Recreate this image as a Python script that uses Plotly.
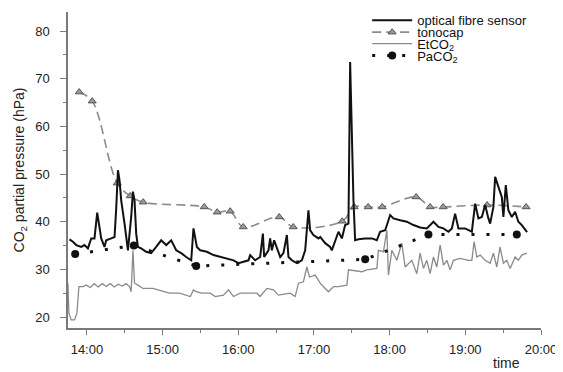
import plotly.graph_objects as go

# ---------------- data (time in decimal hours) ----------------
fibre_t = [13.770, 13.815, 13.859, 13.925, 13.968, 14.013, 14.057, 14.100, 14.136, 14.166,
           14.189, 14.232, 14.255, 14.321, 14.365, 14.387, 14.410, 14.431, 14.453, 14.497,
           14.542, 14.585, 14.608, 14.629, 14.651, 14.674, 14.717, 14.783, 14.849, 14.915,
           14.981, 15.048, 15.114, 15.180, 15.246, 15.312, 15.378, 15.408, 15.431, 15.453,
           15.497, 15.585, 15.672, 15.761, 15.849, 15.937, 16.003, 16.069, 16.135, 16.157,
           16.223, 16.289, 16.325, 16.342, 16.399, 16.421, 16.444, 16.474, 16.510, 16.554,
           16.597, 16.642, 16.663, 16.708, 16.774, 16.840, 16.884, 16.927, 16.950, 16.993,
           17.059, 17.082, 17.148, 17.214, 17.236, 17.280, 17.324, 17.369, 17.412, 17.456,
           17.478, 17.522, 17.544, 17.588, 17.676, 17.765, 17.831, 17.874, 17.941, 18.007,
           18.050, 18.139, 18.227, 18.314, 18.403, 18.491, 18.579, 18.645, 18.711, 18.777,
           18.822, 18.865, 18.909, 18.997, 19.086, 19.130, 19.173, 19.218, 19.262, 19.305,
           19.328, 19.371, 19.394, 19.437, 19.482, 19.503, 19.535, 19.569, 19.614, 19.658,
           19.701, 19.746, 19.790, 19.816]
fibre_v = [36.3, 35.8, 35.1, 34.7, 35.1, 34.4, 36.5, 36.5, 41.9, 38.2,
           36.5, 34.7, 36.1, 36.5, 36.8, 42.8, 50.8, 48.7, 44.5, 39.6,
           34.0, 41.0, 46.3, 44.5, 37.5, 34.7, 34.4, 33.7, 33.4, 34.7,
           36.1, 35.1, 36.1, 34.0, 33.4, 32.6, 31.9, 38.6, 36.5, 34.7,
           34.0, 33.7, 33.0, 32.6, 32.3, 31.9, 31.3, 31.6, 31.9, 33.0,
           31.9, 32.6, 37.5, 32.6, 34.0, 36.5, 34.0, 36.1, 34.7, 32.6,
           33.4, 37.2, 32.6, 31.9, 31.3, 31.9, 34.0, 42.4, 38.2, 37.2,
           36.5, 36.8, 35.5, 34.7, 34.0, 35.8, 37.9, 36.5, 39.3, 39.6,
           73.5, 44.5, 36.1, 36.3, 36.5, 36.5, 36.1, 37.9, 38.2, 41.4,
           40.7, 40.3, 40.0, 39.3, 38.8, 38.6, 40.0, 38.9, 38.6, 37.9,
           38.6, 41.7, 38.6, 38.6, 37.9, 43.8, 40.7, 41.0, 43.5, 40.7,
           39.6, 43.1, 49.4, 47.3, 45.2, 41.0, 47.7, 42.4, 41.0, 42.1,
           40.0, 39.3, 38.2, 37.8]

tono_t = [13.898, 14.070, 14.400, 14.572, 14.744, 15.550, 15.721, 15.893, 16.065, 16.541,
          16.726, 17.373, 17.531, 17.716, 17.901, 18.350, 18.535, 18.707, 19.288, 19.803]
tono_v = [67.2, 65.3, 48.1, 45.4, 44.1, 43.1, 42.0, 42.2, 38.9, 41.0,
          38.9, 40.1, 43.1, 43.1, 43.1, 45.2, 43.1, 43.1, 43.5, 43.1]

etco2_t = [13.749, 13.762, 13.793, 13.836, 13.868, 13.894, 13.947, 13.991, 14.044, 14.096,
           14.149, 14.202, 14.255, 14.308, 14.361, 14.413, 14.466, 14.519, 14.563, 14.585,
           14.608, 14.629, 14.674, 14.740, 14.872, 15.004, 15.091, 15.223, 15.366, 15.408,
           15.453, 15.519, 15.629, 15.695, 15.804, 15.871, 15.937, 16.025, 16.246, 16.289,
           16.378, 16.465, 16.531, 16.686, 16.752, 16.795, 16.861, 16.906, 16.941, 17.016,
           17.082, 17.148, 17.192, 17.258, 17.324, 17.435, 17.456, 17.633, 17.699, 17.831,
           17.852, 17.918, 17.963, 17.984, 18.029, 18.095, 18.161, 18.205, 18.293, 18.359,
           18.403, 18.447, 18.491, 18.535, 18.579, 18.623, 18.667, 18.711, 18.756, 18.799,
           18.843, 18.931, 19.041, 19.086, 19.116, 19.152, 19.196, 19.262, 19.328, 19.371,
           19.416, 19.459, 19.503, 19.548, 19.592, 19.658, 19.701, 19.746, 19.812]
etco2_v = [27.1, 20.8, 19.4, 19.4, 20.8, 26.4, 26.4, 26.7, 26.2, 27.0,
           26.3, 27.0, 26.4, 27.0, 26.3, 26.9, 26.5, 27.0, 26.4, 25.3,
           34.0, 27.1, 26.7, 26.0, 26.0, 25.3, 25.0, 25.0, 24.3, 25.7,
           25.3, 25.0, 25.0, 24.3, 24.6, 25.7, 24.3, 25.0, 25.0, 24.3,
           26.0, 25.7, 24.6, 25.0, 24.3, 27.1, 27.4, 30.5, 28.4, 28.8,
           27.1, 26.0, 25.3, 26.4, 26.4, 26.7, 29.9, 29.5, 29.9, 30.2,
           34.0, 33.7, 38.2, 28.8, 34.0, 31.9, 35.5, 30.5, 31.9, 29.1,
           33.4, 30.2, 31.9, 29.1, 32.6, 30.5, 35.1, 30.9, 31.9, 29.9,
           31.9, 32.3, 31.9, 31.9, 35.8, 32.6, 33.0, 31.9, 31.3, 33.4,
           30.5, 34.7, 31.3, 31.9, 30.2, 32.6, 31.9, 33.0, 33.4]

paco2_t = [13.845, 14.62, 15.444, 17.677, 18.513, 19.680]
paco2_v = [33.2, 35.0, 30.7, 32.1, 37.3, 37.3]

tick_vals = [14, 15, 16, 17, 18, 19, 20]
tick_text = ["14:00", "15:00", "16:00", "17:00", "18:00", "19:00", "20:00"]

FONT = "Liberation Sans, Arial, sans-serif"
AX = "#7a7a7a"

fig = go.Figure()
fig.add_trace(go.Scatter(x=etco2_t, y=etco2_v, mode="lines", name="EtCO<sub>2</sub>",
                         line=dict(color="#8a8a8a", width=1.3), legend="legend3"))
fig.add_trace(go.Scatter(x=tono_t, y=tono_v, mode="lines+markers", name="tonocap",
                         line=dict(color="#8c8c8c", width=1.6, dash="9px,5px", shape="spline", smoothing=1.0),
                         marker=dict(symbol="triangle-up", size=7, color="#9a9a9a",
                                     line=dict(color="#555555", width=1)),
                         legend="legend2"))
fig.add_trace(go.Scatter(x=paco2_t, y=paco2_v, mode="lines+markers", name="PaCO<sub>2</sub>",
                         line=dict(color="#111111", width=3, dash="3px,12px"),
                         marker=dict(symbol="circle", size=8, color="#111111"),
                         legend="legend4"))
fig.add_trace(go.Scatter(x=fibre_t, y=fibre_v, mode="lines", name="optical fibre sensor",
                         line=dict(color="#111111", width=2), legend="legend"))

leg_common = dict(x=0.6325, xanchor="left", yanchor="middle", bgcolor="rgba(0,0,0,0)",
                  itemwidth=40,
                  font=dict(family=FONT, size=13, color="#111111"), borderwidth=0)

# the page body adds an 8 px offset; margins compensate so the plot area sits
# at x 68..541, y 12..328 in the photographed window
fig.update_layout(
    width=563, height=372,
    margin=dict(l=60, r=30, t=4, b=52, autoexpand=False),
    paper_bgcolor="white", plot_bgcolor="white",
    font=dict(family=FONT, size=13, color="#222222"),
    showlegend=True,
    legend=dict(y=0.974, **leg_common),
    legend2=dict(y=0.936, **leg_common),
    legend3=dict(y=0.900, **leg_common),
    legend4=dict(y=0.862, **leg_common),
    xaxis=dict(range=[13.75, 20.0], tickvals=tick_vals, ticktext=tick_text, automargin=False,
               showgrid=False, zeroline=False, showline=True, linecolor=AX, linewidth=1.5,
               ticks="outside", ticklen=5, tickwidth=1.3, tickcolor=AX,
               ticklabelstandoff=4,
               minor=dict(dtick=0.5, tick0=14, ticks="outside", ticklen=3, tickcolor=AX, tickwidth=1),
               tickfont=dict(size=13, color="#222222")),
    yaxis=dict(range=[17.7, 84], tickvals=[20, 30, 40, 50, 60, 70, 80], automargin=False,
               showgrid=False, zeroline=False, showline=True, linecolor=AX, linewidth=1.5,
               ticks="outside", ticklen=6, tickwidth=1.3, tickcolor=AX,
               ticklabelstandoff=8,
               minor=dict(dtick=5, tick0=20, ticks="outside", ticklen=3, tickcolor=AX, tickwidth=1),
               tickfont=dict(size=13, color="#222222"),
               title=dict(text="CO<sub>2</sub> partial pressure (hPa)", standoff=7,
                          font=dict(size=14, color="#222222"))),
    annotations=[dict(text="time", x=19.55, xref="x", y=-0.111, yref="paper",
                      yanchor="middle", showarrow=False,
                      font=dict(family=FONT, size=14, color="#222222"))],
)

fig.write_html("out.html")
